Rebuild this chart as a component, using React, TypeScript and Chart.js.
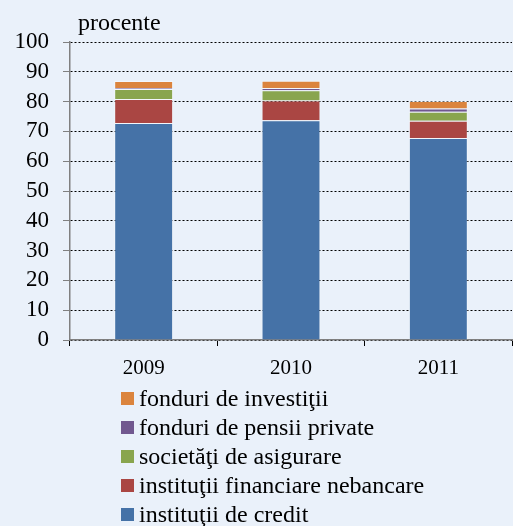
import React, { useEffect, useRef } from "react";
import { Chart, registerables } from "chart.js";

Chart.register(...registerables);

const years = ["2009", "2010", "2011"];
const institutiiCredit = [72.8, 73.7, 67.8];
const institutiiFinanciareNebancare = [8.1, 6.7, 5.8];
const societatiAsigurare = [3.3, 3.4, 3.0];
const fonduriPensii = [0.4, 0.8, 1.1];
const fonduriInvestitii = [2.3, 2.4, 2.5];
const yTicks = [0, 10, 20, 30, 40, 50, 60, 70, 80, 90, 100];
const unitLabel = "procente";

const seriesNames = [
  "instituţii de credit",
  "instituţii financiare nebancare",
  "societăţi de asigurare",
  "fonduri de pensii private",
  "fonduri de investiţii",
];
const seriesColors = ["#4572A7", "#AA4643", "#89A54E", "#71588F", "#DB843D"];
const seriesValues = [
  institutiiCredit,
  institutiiFinanciareNebancare,
  societatiAsigurare,
  fonduriPensii,
  fonduriInvestitii,
];

const FONT = "'Liberation Serif', 'Times New Roman', serif";
const BG = "#EAF1FA";

export default function App() {
  const ref = useRef<HTMLCanvasElement | null>(null);

  useEffect(() => {
    if (!ref.current) return;
    const titlePlugin = {
      id: "unitTitle",
      afterDraw(chart: any) {
        const ctx = chart.ctx;
        ctx.save();
        ctx.font = `24px ${FONT}`;
        ctx.fillStyle = "#000";
        ctx.textAlign = "left";
        ctx.textBaseline = "alphabetic";
        ctx.fillText(unitLabel, chart.chartArea.left + 8, chart.chartArea.top - 12);
        ctx.restore();
      },
    };
    const chart = new Chart(ref.current, {
      type: "bar",
      data: {
        labels: years,
        datasets: seriesNames.map((n, i) => ({
          label: n,
          data: seriesValues[i],
          backgroundColor: seriesColors[i],
          borderColor: "rgba(255,255,255,0.4)",
          borderWidth: 1,
          barPercentage: 0.4,
          categoryPercentage: 1,
        })),
      },
      options: {
        responsive: false,
        animation: false,
        layout: { padding: { left: 0.5, top: 42, right: 1, bottom: 9.8 } },
        plugins: {
          legend: { display: false },
          tooltip: { enabled: false },
        },
        scales: {
          x: {
            stacked: true,
            offset: true,
            grid: {
              offset: true,
              drawOnChartArea: false,
              drawTicks: true,
              tickLength: 6,
              tickColor: "#000",
              tickWidth: 1,
            },
            border: { color: "#808080", width: 1.5 },
            ticks: {
              color: "#000",
              font: { family: FONT, size: 21 },
              padding: 9.5,
            },
          },
          y: {
            stacked: true,
            min: 0,
            max: 100,
            afterBuildTicks: (axis: any) => {
              axis.ticks = yTicks.map((v) => ({ value: v }));
            },
            grid: {
              color: "#000",
              lineWidth: 1,
              tickBorderDash: [],
              tickColor: "#808080",
              tickLength: 7,
              drawTicks: true,
            },
            border: { color: "#808080", width: 1.5, dash: [2, 2] },
            ticks: {
              color: "#000",
              font: { family: FONT, size: 23 },
              padding: 14,
              autoSkip: false,
            },
          },
        },
      },
      plugins: [titlePlugin],
    });
    return () => chart.destroy();
  }, []);

  const legendOrder = [...seriesNames.keys()].reverse();

  return (
    <div
      style={{
        position: "fixed",
        left: 0,
        top: 0,
        width: 513,
        height: 526,
        background: BG,
        overflow: "hidden",
      }}
    >
      <canvas ref={ref} width={513} height={400} style={{ display: "block", width: 513, height: 400 }} />
      <div style={{ position: "absolute", left: 121, top: 384 }}>
        {legendOrder.map((i) => (
          <div
            key={i}
            style={{
              display: "flex",
              alignItems: "center",
              height: 29,
              fontFamily: FONT,
              fontSize: 24,
              color: "#000",
              whiteSpace: "nowrap",
            }}
          >
            <span
              style={{
                display: "inline-block",
                width: 13,
                height: 13,
                background: seriesColors[i],
                marginRight: 5,
              }}
            />
            <span>{seriesNames[i]}</span>
          </div>
        ))}
      </div>
    </div>
  );
}
